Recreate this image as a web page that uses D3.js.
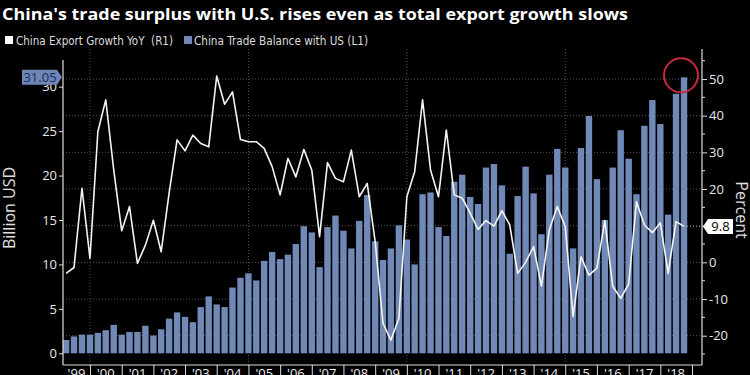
<!DOCTYPE html>
<html lang="en">
<head>
<meta charset="UTF-8">
<title>China trade surplus with US</title>
<script src="https://d3js.org/d3.v7.min.js"></script>
<style>
  body { margin: 0; background: #000; }
  svg { display: block; }
</style>
</head>
<body>
<div id="chart"></div>
<script>
// quarterly data, 1999 Q1 .. 2018 Q3
var quarters = [
  "1999Q1","1999Q2","1999Q3","1999Q4","2000Q1","2000Q2","2000Q3","2000Q4",
  "2001Q1","2001Q2","2001Q3","2001Q4","2002Q1","2002Q2","2002Q3","2002Q4",
  "2003Q1","2003Q2","2003Q3","2003Q4","2004Q1","2004Q2","2004Q3","2004Q4",
  "2005Q1","2005Q2","2005Q3","2005Q4","2006Q1","2006Q2","2006Q3","2006Q4",
  "2007Q1","2007Q2","2007Q3","2007Q4","2008Q1","2008Q2","2008Q3","2008Q4",
  "2009Q1","2009Q2","2009Q3","2009Q4","2010Q1","2010Q2","2010Q3","2010Q4",
  "2011Q1","2011Q2","2011Q3","2011Q4","2012Q1","2012Q2","2012Q3","2012Q4",
  "2013Q1","2013Q2","2013Q3","2013Q4","2014Q1","2014Q2","2014Q3","2014Q4",
  "2015Q1","2015Q2","2015Q3","2015Q4","2016Q1","2016Q2","2016Q3","2016Q4",
  "2017Q1","2017Q2","2017Q3","2017Q4","2018Q1","2018Q2","2018Q3"
];

// China trade balance with US, billion USD (L1)
var tradeBalance = [
  1.5, 1.9, 2.1, 2.1,   2.3, 2.6, 3.2, 2.1,   2.4, 2.4, 3.1, 2.0,
  2.7, 3.9, 4.6, 4.1,   3.5, 5.2, 6.4, 5.5,   5.2, 7.4, 8.5, 9.0,
  8.2, 10.4, 11.4, 10.6,  11.1, 12.3, 14.3, 13.6,  9.7, 14.2, 15.5, 13.8,
  11.8, 14.9, 17.8, 12.6,  10.5, 11.8, 14.4, 12.8,  10.0, 17.9, 18.1, 14.2,
  13.2, 19.3, 20.1, 17.6,  16.8, 20.9, 21.3, 18.9,  11.2, 17.7, 21.0, 18.0,
  13.4, 20.1, 23.0, 20.9,  11.8, 23.1, 26.7, 19.6,  15.0, 20.9, 25.1, 21.9,
  17.9, 25.6, 28.5, 25.8,  15.6, 29.2, 31.05
];

// China export growth YoY, percent (R1)
var exportGrowth = [
  -3.0, -1.4, 20.2, 1.1,   35.6, 44.3, 25.2, 8.6,   15.2, -0.3, 4.7, 11.5,
  2.9, 18.8, 33.4, 30.4,   34.7, 32.4, 31.5, 50.8,  43.1, 46.5, 33.5, 32.9,
  32.9, 31.1, 26.1, 18.4,  28.4, 23.3, 30.8, 25.2,  7.0, 27.2, 22.9, 22.0,
  30.6, 17.9, 21.5, 5.6,   -16.6, -21.2, -15.3, 17.9,  24.7, 44.3, 25.2, 17.9,
  36.1, 18.4, 17.5, 13.4,  9.0, 11.4, 9.9, 14.1,   10.2, -3.0, 0.0, 4.3,
  -6.5, 8.8, 15.2, 9.7,    -14.8, 1.5, -3.5, -1.6,  11.4, -6.5, -9.8, -5.9,
  16.5, 10.2, 8.1, 10.8,   -3.0, 11.1, 9.8
];

var yearLabels = ["'99","'00","'01","'02","'03","'04","'05","'06","'07","'08",
                  "'09","'10","'11","'12","'13","'14","'15","'16","'17","'18"];
var leftTicks = [0, 5, 10, 15, 20, 25, 30];
var rightTicks = [-20, -10, 0, 10, 20, 30, 40, 50];
var rightMinor = [-25, -15, -5, 5, 15, 25, 35, 45, 55];

var title = "China's trade surplus with U.S. rises even as total export growth slows";

var W = 750, H = 375;
var plot = {left: 63, right: 702, top: 49, bottom: 365};

// bars sit on the quarter-end date
function quarterEnd(q) {
  var yr = +q.slice(0, 4), n = +q.slice(5);
  return new Date(yr, n * 3, 1);
}

var data = quarters.map(function(q, i) {
  return {q: q, date: quarterEnd(q), bal: tradeBalance[i], exp: exportGrowth[i]};
});

var x = d3.scaleTime()
  .domain([new Date(1999, 0, 1), new Date(2019, 0, 1)])
  .range([58.3, 692]);
var yL = d3.scaleLinear().domain([0, 30]).range([353.3, 86.7]);
var yR = d3.scaleLinear().domain([-20, 50]).range([335.7, 79]);

var qw = x(new Date(2000, 0, 1)) - x(new Date(1999, 9, 1));
var bw = qw * 0.8;

var last = data[data.length - 1];

var svg = d3.select("#chart").append("svg")
  .attr("width", W).attr("height", H)
  .style("background", "#000");

var tickFont = "'Open Sans', 'DejaVu Sans', sans-serif";
var narrowFont = "'Liberation Sans Narrow', 'DejaVu Sans Condensed', sans-serif";

// title
svg.append("text")
  .attr("x", 2).attr("y", 19.5)
  .attr("fill", "#fff")
  .style("font-family", tickFont)
  .style("font-weight", "bold")
  .style("font-size", "16px")
  .attr("textLength", 626).attr("lengthAdjust", "spacingAndGlyphs")
  .text(title);

// legend
var lg = svg.append("g").style("font-family", narrowFont).style("font-size", "11.5px");
lg.append("rect").attr("x", 5).attr("y", 36).attr("width", 8).attr("height", 8).attr("fill", "#fff");
lg.append("text").attr("x", 16).attr("y", 44.5).attr("fill", "#ddd")
  .style("white-space", "pre")
  .attr("textLength", 157).attr("lengthAdjust", "spacingAndGlyphs")
  .text("China Export Growth YoY  (R1)");
lg.append("rect").attr("x", 184).attr("y", 36).attr("width", 8).attr("height", 8).attr("fill", "#7189b7");
lg.append("text").attr("x", 194).attr("y", 44.5).attr("fill", "#ddd")
  .attr("textLength", 174).attr("lengthAdjust", "spacingAndGlyphs")
  .text("China Trade Balance with US (L1)");

// gridlines
var grid = svg.append("g")
  .attr("stroke", "#555").attr("stroke-width", 1).attr("stroke-dasharray", "1,2");
grid.selectAll(".hg").data(rightTicks).enter().append("line")
  .attr("x1", plot.left).attr("x2", plot.right)
  .attr("y1", function(d) { return yR(d); }).attr("y2", function(d) { return yR(d); });
grid.selectAll(".vg").data([2000, 2005, 2010, 2015]).enter().append("line")
  .attr("y1", plot.top).attr("y2", plot.bottom)
  .attr("x1", function(d) { return x(new Date(d, 0, 1)); })
  .attr("x2", function(d) { return x(new Date(d, 0, 1)); });

// bars
svg.selectAll(".bar").data(data).enter().append("rect")
  .attr("class", "bar")
  .attr("x", function(d) { return x(d.date) - bw / 2; })
  .attr("width", bw)
  .attr("y", function(d) { return yL(d.bal); })
  .attr("height", function(d) { return yL(0) - yL(d.bal); })
  .attr("fill", "#7189b7");

// export growth line
var line = d3.line()
  .x(function(d) { return x(d.date); })
  .y(function(d) { return yR(d.exp); });
svg.append("path").datum(data)
  .attr("d", line)
  .attr("fill", "none")
  .attr("stroke", "#f4f4f4")
  .attr("stroke-width", 1.6)
  .attr("stroke-linejoin", "round");

// frame lines
var frame = svg.append("g").attr("stroke", "#ddd").attr("stroke-width", 1.2);
frame.append("line").attr("x1", plot.left).attr("x2", plot.left).attr("y1", 60).attr("y2", plot.bottom);
frame.append("line").attr("x1", plot.right).attr("x2", plot.right).attr("y1", plot.top).attr("y2", plot.bottom);
frame.append("line").attr("x1", plot.left).attr("x2", plot.right).attr("y1", plot.bottom).attr("y2", plot.bottom);

// left axis
var gl = svg.append("g").attr("transform", "translate(" + plot.left + ",0)")
  .call(d3.axisLeft(yL).tickValues(leftTicks).tickSize(4).tickPadding(2));
gl.select(".domain").remove();
gl.selectAll(".tick line").attr("stroke", "#ddd");
gl.selectAll(".tick text").attr("fill", "#e8e8e8")
  .style("font-family", tickFont).style("font-size", "13px");

// right axis (the label under the last-value box is hidden)
var gr = svg.append("g").attr("transform", "translate(" + plot.right + ",0)")
  .call(d3.axisRight(yR).tickValues(rightTicks).tickSize(5).tickPadding(2)
    .tickFormat(function(d) { return d < 0 ? "-" + Math.abs(d) : d; }));
gr.select(".domain").remove();
gr.selectAll(".tick line").attr("stroke", "#ddd");
gr.selectAll(".tick text").attr("fill", "#e8e8e8")
  .style("font-family", tickFont).style("font-size", "13px");
gr.selectAll(".tick text")
  .filter(function(d) { return Math.abs(yR(d) - yR(last.exp)) < 12; })
  .remove();
svg.append("g").attr("transform", "translate(" + plot.right + ",0)")
  .selectAll("line").data(rightMinor).enter().append("line")
  .attr("x1", 0).attr("x2", 3)
  .attr("y1", function(d) { return yR(d); }).attr("y2", function(d) { return yR(d); })
  .attr("stroke", "#ddd");

// x axis: year separators and labels
var yearStarts = d3.range(2000, 2020).map(function(y) { return new Date(y, 0, 1); });
var gx = svg.append("g").attr("transform", "translate(0," + plot.bottom + ")")
  .call(d3.axisBottom(x).tickValues(yearStarts).tickSize(10).tickFormat(""));
gx.select(".domain").remove();
gx.selectAll(".tick line").attr("stroke", "#ddd");

svg.append("g").selectAll("text").data(yearLabels).enter().append("text")
  .attr("x", function(d, i) {
    var a = Math.max(x(new Date(1999 + i, 0, 1)), plot.left);
    var b = x(new Date(2000 + i, 0, 1));
    return (a + b) / 2;
  })
  .attr("y", 378)
  .attr("text-anchor", "middle")
  .attr("fill", "#eee")
  .style("font-family", tickFont).style("font-size", "13px")
  .text(function(d) { return d; });

// axis titles
svg.append("text")
  .attr("transform", "translate(15,208) rotate(-90)")
  .attr("text-anchor", "middle")
  .attr("fill", "#e0e0e0")
  .style("font-family", tickFont).style("font-size", "16px")
  .text("Billion USD");
svg.append("text")
  .attr("transform", "translate(736,210) rotate(90)")
  .attr("text-anchor", "middle")
  .attr("fill", "#e0e0e0")
  .style("font-family", tickFont).style("font-size", "16px")
  .text("Percent");

// last value callouts
var cy = yL(last.bal);
svg.append("path")
  .attr("d", "M22," + (cy - 7.5) + "H57L62," + cy + "L57," + (cy + 7.5) + "H22Z")
  .attr("fill", "#6c86b8");
svg.append("text").attr("x", 40).attr("y", cy + 4.5)
  .attr("text-anchor", "middle").attr("fill", "#1c2d55")
  .style("font-family", tickFont).style("font-size", "13px")
  .text(d3.format(".2f")(last.bal));

var ry = yR(last.exp);
svg.append("line")
  .attr("x1", x(last.date)).attr("x2", plot.right)
  .attr("y1", ry).attr("y2", ry)
  .attr("stroke", "#888").attr("stroke-dasharray", "1,2");
svg.append("path")
  .attr("d", "M703," + ry + "L708," + (ry - 7.5) + "H733V" + (ry + 7.5) + "H708Z")
  .attr("fill", "#fff");
svg.append("text").attr("x", 720.5).attr("y", ry + 4.5)
  .attr("text-anchor", "middle").attr("fill", "#000")
  .style("font-family", tickFont).style("font-size", "13px")
  .text(last.exp);

// red circle highlighting the latest bar
svg.append("circle")
  .attr("cx", x(last.date) - 3).attr("cy", cy - 2).attr("r", 17)
  .attr("fill", "none").attr("stroke", "#c3283c").attr("stroke-width", 2);
</script>
</body>
</html>
